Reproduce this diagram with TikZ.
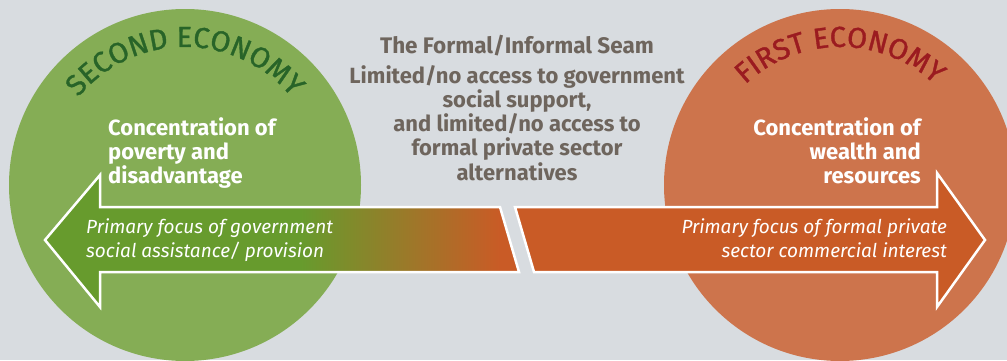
\documentclass[tikz,border=0pt]{standalone}
\usepackage{fontspec}
\setmainfont{Fira Sans}
\newfontfamily\ecofamily[FakeBold=1.2]{Fira Sans}
\usetikzlibrary{decorations.text}

\definecolor{bggray}{RGB}{216,220,224}
\definecolor{secgreen}{RGB}{133,173,85}
\definecolor{firstred}{RGB}{205,116,76}
\definecolor{arrgreen}{RGB}{103,155,45}
\definecolor{arrorange}{RGB}{201,91,38}
\definecolor{secdark}{RGB}{40,100,40}
\definecolor{firstdark}{RGB}{155,27,32}
\definecolor{seamgray}{RGB}{110,101,93}

\pgfdeclarehorizontalshading{seamshade}{100bp}{color(0bp)=(arrgreen); color(52bp)=(arrgreen); color(73bp)=(arrorange); color(100bp)=(arrorange)}

\newcommand{\ecofont}{\ecofamily\fontsize{29}{29}\selectfont}

\begin{document}
\begin{tikzpicture}[x=1pt,y=1pt]

      \useasboundingbox[fill=bggray] (0,0) rectangle (1007,360);

      % the two economies
      \begin{scope}
        \clip (0,0) rectangle (1007,360);
        \fill[secgreen] (185,175) circle (176);
        \fill[firstred] (840,175) circle (176);
      \end{scope}

      \path[decorate, decoration={text along path, text align=center, text color=secdark,
          text={|\ecofont|SECOND ECONOMY}}]
        (185,175) ++(160:138) arc[start angle=160, end angle=20, radius=138];
      \path[decorate, decoration={text along path, text align=center, text color=firstdark,
          text={|\ecofont|FIRST ECONOMY}}]
        (840,175) ++(160:138) arc[start angle=160, end angle=20, radius=138];

      % the arrows
      \begin{scope}[every path/.style={draw=white, line width=2.5pt}]
        \shadedraw[shading=seamshade] (45,120) -- (100,185) -- (100,153) -- (500,153)
          -- (519,88) -- (100,88) -- (100,53) -- cycle;
        \filldraw[fill=arrorange] (515,153) -- (937,153) -- (937,187) -- (985,120)
          -- (937,53) -- (937,88) -- (534,88) -- cycle;
      \end{scope}

      % base of a multi-line node = last line
      \begin{scope}[every node/.style={text=white, inner sep=0pt, font=\bfseries\fontsize{22}{24}\selectfont}]
        \node[anchor=base west, align=left] (poverty) at (108,177) {Concentration of\\poverty and\\disadvantage};
        \node[anchor=base east, align=right] (wealth) at (921,177) {Concentration of\\wealth and\\resources};
      \end{scope}

      \begin{scope}[every node/.style={text=white, inner sep=0pt, font=\itshape\fontsize{19}{24}\selectfont}]
        \node[anchor=base west, align=left] (govt) at (86,103) {Primary focus of government\\social assistance/ provision};
        \node[anchor=base east, align=right] (private) at (947,103) {Primary focus of formal private\\sector commercial interest};
      \end{scope}

      \begin{scope}[every node/.style={text=seamgray, inner sep=0pt, align=center, anchor=base}]
        \node[font=\bfseries\fontsize{22.5}{24}\selectfont] (seam) at (517,307) {The Formal/Informal Seam};
        \node[font=\bfseries\fontsize{22}{24.2}\selectfont] (access) at (517,180) {Limited/no access to government\\social support,\\and limited/no access to\\formal private sector\\alternatives};
      \end{scope}

    \end{tikzpicture}
\end{document}
